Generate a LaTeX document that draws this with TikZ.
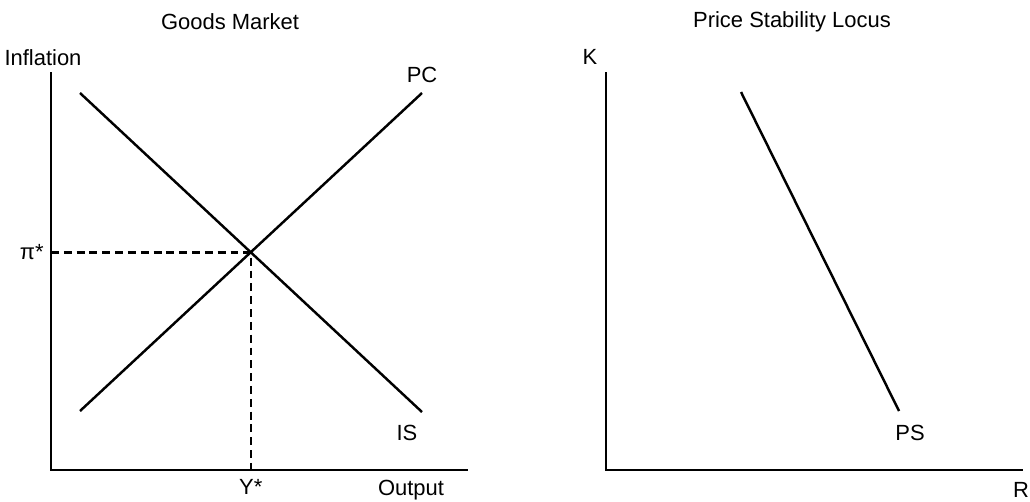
\documentclass[tikz,border=0pt]{standalone}
\usepackage{fontspec}
\setmainfont{Liberation Sans}
\usepackage{tikz}
\usetikzlibrary{positioning,calc}
\tikzset{
  % axes and curves
  AX/.style={line width=1.4pt,line cap=rect},
  CV/.style={line width=1.4pt},
  DS/.style={line width=1.4pt,dash pattern=on 4.5pt off 2.8pt},
  % labels
  LB/.style={inner sep=0pt,font=\fontsize{12.5}{15}\selectfont},
  TT/.style={LB}
}

\begin{document}
\begin{tikzpicture}[x=0.02cm,y=-0.02cm]
  \useasboundingbox (0,0) rectangle (1030,501);
  % --- Goods Market ---
  \node[TT] (t1) at (230,22) {Goods Market};
  \coordinate (o1) at (51,470);
  \coordinate (y1) at (51,73);
  \coordinate (x1) at (467,470);
  \draw[AX] (y1)--(o1)--(x1);
  \node[LB] (infl) at (43,58) {Inflation};
  \node[LB] (outp) at (411,490) {Output};
  \coordinate (is1) at (80,93);
  \coordinate (is2) at (422,412);
  \coordinate (pc1) at (80,411);
  \coordinate (pc2) at (422,93);
  \draw[CV] (is1)--(is2);
  \draw[CV] (pc1)--(pc2);
  \node[LB] (pc) at (422,75) {PC};
  \node[LB] (is) at (407,433) {IS};
  \coordinate (eq) at (intersection of is1--is2 and pc1--pc2);
  \coordinate (eqy) at (o1 -| eq);
  \coordinate (eqx) at (o1 |- eq);
  \draw[DS] (eqx)--(eq)--(eqy);
  \node[LB,left=4pt of eqx] (pistar) {π*};
  \node[LB,below=5pt of eqy] (ystar) {Y*};
  % --- Price Stability Locus ---
  \node[TT] (t2) at (792,22) {Price Stability Locus};
  \coordinate (o2) at (606,470);
  \coordinate (y2) at (606,73);
  \coordinate (x2) at (1022,470);
  \draw[AX] (y2)--(o2)--(x2);
  \node[LB] (k) at (590,57) {K};
  \node[LB] (r) at (1021,490) {R};
  \coordinate (ps1) at (741,92);
  \coordinate (ps2) at (899,411);
  \draw[CV] (ps1)--(ps2);
  \node[LB] (ps) at (910,433) {PS};
\end{tikzpicture}
\end{document}
